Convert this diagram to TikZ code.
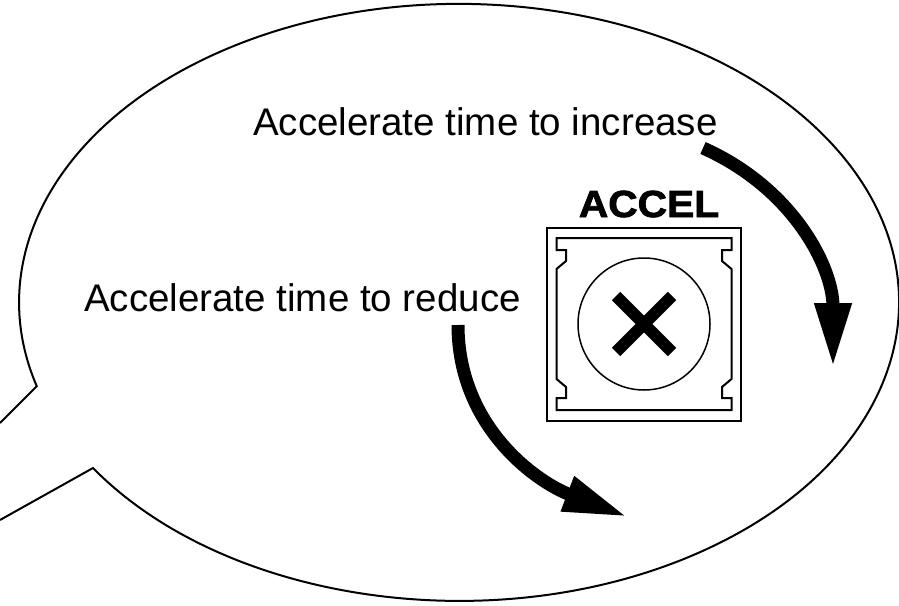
\documentclass[tikz,border=0pt]{standalone}
\usepackage{fontspec}
\setmainfont{Liberation Sans}
\newfontfamily\accelfont{Liberation Sans Bold}[FakeBold=2]
\usepackage{graphicx}
\usetikzlibrary{arrows.meta}

\begin{document}
\begin{tikzpicture}[x=1pt, y=1pt,
		label/.style={anchor=base west, inner sep=0pt, font=\fontsize{38.5}{46}\selectfont},
		bigarrow/.style={line width=13pt, -{Triangle[length=65pt, width=34pt]}},
		outline/.style={line width=2pt}]
		\useasboundingbox (0,0) rectangle (899,-605);

		\draw[outline] (0,-520) -- (93,-468) arc[start angle=213.7, end angle=556.3, x radius=440, y radius=298.5] -- (0,-423);

		\node[label] (Accelerate time to increase) at (253,-135) {Accelerate time to increase};
		\node[label] (Accelerate time to reduce) at (84,-311) {Accelerate time to reduce};

		\node[draw, outline, minimum width=194pt, minimum height=193pt, inner sep=0pt] (case) at (644,-324) {};
		\node[draw, circle, line width=1.5pt, minimum size=132pt, inner sep=0pt] (dial) at (644,-324) {};
		\node[anchor=base, inner sep=0pt, font=\accelfont\fontsize{37.7}{40}\selectfont] (ACCEL) at (649,-217) {\scalebox{1.08}[1]{ACCEL}};

		\begin{scope}[shift={(case.center)}]
			\draw[outline] (-87.5,86) -- (87.5,86) -- (87.5,74) -- (78,74) -- (78,63) -- (87.5,55)
				-- (87.5,-55) -- (78,-63) -- (78,-74) -- (87.5,-74) -- (87.5,-86)
				-- (-87.5,-86) -- (-87.5,-74) -- (-78,-74) -- (-78,-63) -- (-87.5,-55)
				-- (-87.5,55) -- (-78,63) -- (-78,74) -- (-87.5,74) -- cycle;
		\end{scope}
		\draw[line width=12pt] (dial.center) +(-28,28) -- +(28,-28) (dial.center) +(-28,-28) -- +(28,28);

		\coordinate (increase start) at (703,-148);
		\coordinate (increase end) at (833,-368);
		\coordinate (reduce start) at (458,-325);
		\coordinate (reduce end) at (628,-517);

		\draw[bigarrow] (increase start) to[out=-24, in=90] (increase end);
		\draw[bigarrow] (reduce start) to[out=-90, in=159] (reduce end);
	\end{tikzpicture}
\end{document}
